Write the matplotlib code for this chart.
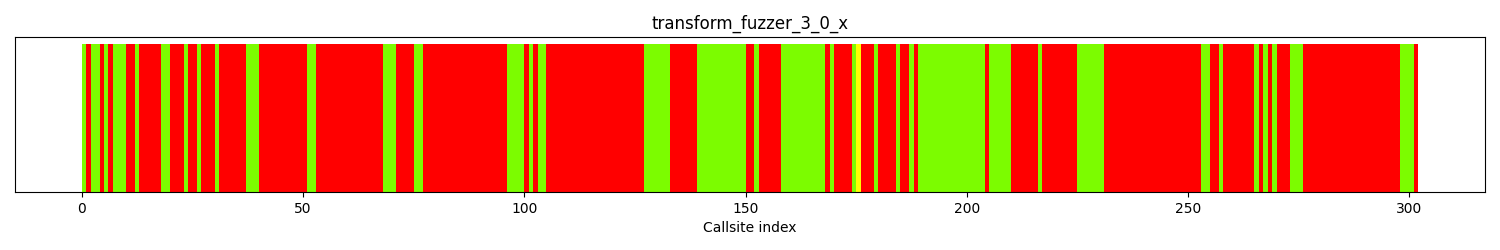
import numpy as np
import matplotlib
matplotlib.use("Agg")
import matplotlib.pyplot as plt

# callsite status as runs, read left to right (G = green, R = red, Y = yellow)
run_status = ['G', 'R', 'G', 'R', 'G', 'R', 'G', 'R', 'G', 'R',
              'G', 'R', 'G', 'R', 'G', 'R', 'G', 'R', 'G', 'R',
              'G', 'R', 'G', 'R', 'G', 'R', 'G', 'R', 'G', 'R',
              'G', 'R', 'G', 'R', 'G', 'R', 'G', 'R', 'G', 'R',
              'G', 'R', 'G', 'Y', 'R', 'G', 'R', 'G', 'R', 'G',
              'R', 'G', 'R', 'G', 'R', 'G', 'R', 'G', 'R', 'G',
              'R', 'G', 'R', 'G', 'R', 'G', 'R', 'G', 'R', 'G',
              'R', 'G', 'R']
run_length = [1, 1, 2, 1, 1, 1, 3, 2, 1, 5,
              2, 3, 1, 2, 1, 3, 1, 6, 3, 11,
              2, 15, 3, 4, 2, 19, 4, 1, 1, 1,
              2, 22, 6, 6, 11, 2, 1, 5, 10, 1,
              1, 4, 1, 1, 3, 1, 4, 1, 2, 1,
              1, 15, 1, 5, 6, 1, 8, 6, 22, 2,
              2, 1, 7, 1, 1, 1, 1, 1, 3, 3,
              22, 3, 1]

colors = {'G': '#7cfc00', 'R': '#ff0000', 'Y': '#ffff00'}

status = np.repeat(run_status, run_length)
idx = np.arange(len(status))

fig, ax = plt.subplots(figsize=(15, 2.5), dpi=100)
ax.bar(idx, 1, width=1, align='edge',
       color=[colors[s] for s in status], linewidth=0)
ax.set_title('transform_fuzzer_3_0_x')
ax.set_xlabel('Callsite index')
ax.set_yticks([])
plt.subplots_adjust(left=0.01, right=0.99, top=0.852, bottom=0.232)
plt.savefig('out.png')
